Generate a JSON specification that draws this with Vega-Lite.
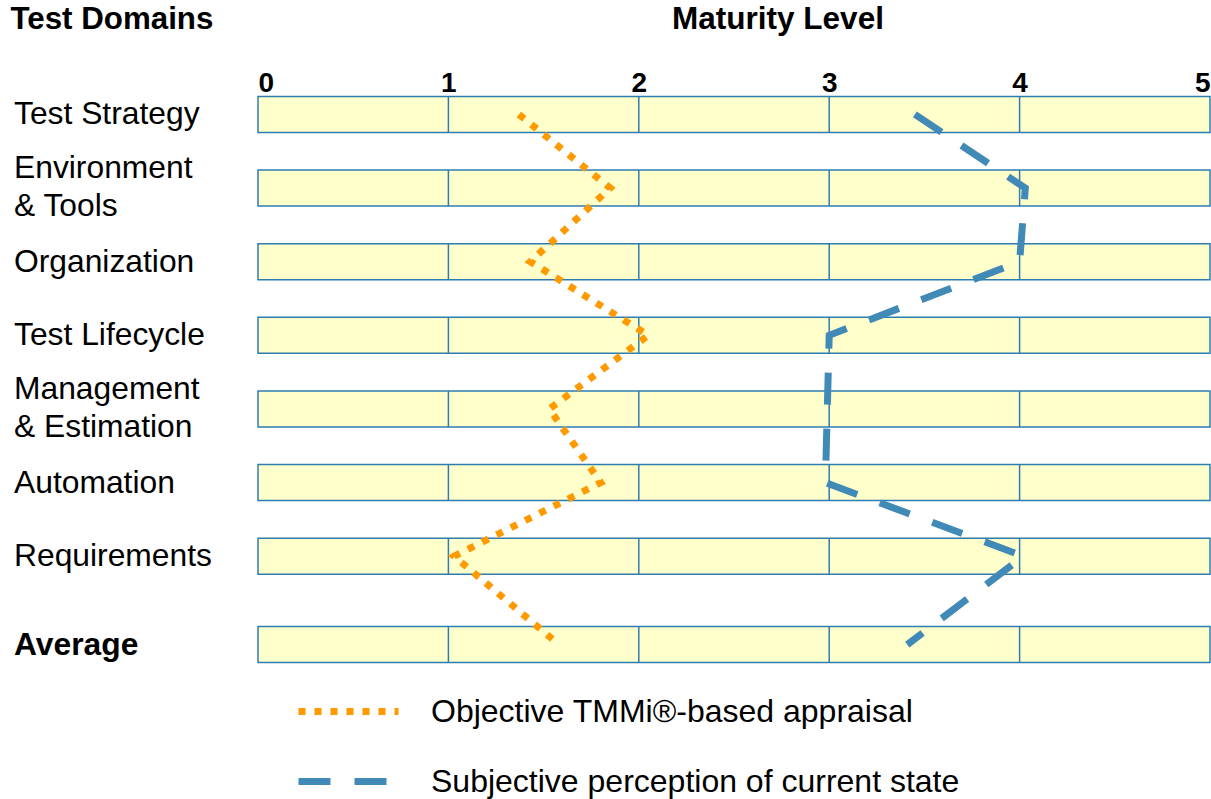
{
  "$schema": "https://vega.github.io/schema/vega-lite/v6.json",
  "width": 952,
  "height": 567,
  "autosize": {"type": "none"},
  "padding": {"left": 258, "top": 96, "right": 1, "bottom": 136},
  "background": "white",
  "config": {
    "view": {"stroke": null},
    "font": "Liberation Sans",
    "axis": {"grid": false, "ticks": false, "domain": false}
  },
  "data": {
    "values": [
      {"domain": "Test Strategy", "order": 1, "Objective TMMi®-based appraisal": 1.37, "Subjective perception of current state": 3.45},
      {"domain": "Environment\n& Tools", "order": 2, "Objective TMMi®-based appraisal": 1.85, "Subjective perception of current state": 4.03},
      {"domain": "Organization", "order": 3, "Objective TMMi®-based appraisal": 1.43, "Subjective perception of current state": 4.0},
      {"domain": "Test Lifecycle", "order": 4, "Objective TMMi®-based appraisal": 2.05, "Subjective perception of current state": 3.0},
      {"domain": "Management\n& Estimation", "order": 5, "Objective TMMi®-based appraisal": 1.53, "Subjective perception of current state": 2.99},
      {"domain": "Automation", "order": 6, "Objective TMMi®-based appraisal": 1.8, "Subjective perception of current state": 2.98},
      {"domain": "Requirements", "order": 7, "Objective TMMi®-based appraisal": 1.03, "Subjective perception of current state": 4.02},
      {"domain": "Average", "order": 8.2, "Objective TMMi®-based appraisal": 1.58, "Subjective perception of current state": 3.41}
    ]
  },
  "encoding": {
    "y": {
      "field": "order",
      "type": "quantitative",
      "scale": {"domain": [0.75, 8.45], "reverse": true, "nice": false, "zero": false, "padding": 0},
      "axis": {
        "title": "Test Domains",
        "labels": false,
        "titleAngle": 0,
        "titleAlign": "left",
        "titleBaseline": "alphabetic",
        "titleX": -248,
        "titleY": -68,
        "titleFontSize": 31.3,
        "titleFontWeight": "bold",
        "titleColor": "black"
      }
    }
  },
  "layer": [
    {
      "mark": {"type": "bar", "height": 36, "fill": "#FFFFCC", "stroke": "#2E7DB2", "strokeWidth": 1.5},
      "encoding": {
        "x": {"datum": 0, "type": "quantitative"},
        "x2": {"datum": 5}
      }
    },
    {
      "mark": {"type": "tick", "orient": "vertical", "thickness": 1.5, "color": "#2E7DB2", "opacity": 1},
      "encoding": {"x": {"datum": 1, "type": "quantitative"}, "size": {"value": 36}}
    },
    {
      "mark": {"type": "tick", "orient": "vertical", "thickness": 1.5, "color": "#2E7DB2", "opacity": 1},
      "encoding": {"x": {"datum": 2, "type": "quantitative"}, "size": {"value": 36}}
    },
    {
      "mark": {"type": "tick", "orient": "vertical", "thickness": 1.5, "color": "#2E7DB2", "opacity": 1},
      "encoding": {"x": {"datum": 3, "type": "quantitative"}, "size": {"value": 36}}
    },
    {
      "mark": {"type": "tick", "orient": "vertical", "thickness": 1.5, "color": "#2E7DB2", "opacity": 1},
      "encoding": {"x": {"datum": 4, "type": "quantitative"}, "size": {"value": 36}}
    },
    {
      "transform": [
        {"fold": ["Objective TMMi®-based appraisal", "Subjective perception of current state"], "as": ["series", "value"]}
      ],
      "mark": {"type": "line", "strokeWidth": 7, "strokeCap": "butt"},
      "encoding": {
        "x": {
          "field": "value",
          "type": "quantitative",
          "scale": {"domain": [0, 5], "nice": false, "zero": true, "padding": 0},
          "axis": {
            "orient": "top",
            "values": [0, 1, 2, 3, 4, 5],
            "format": "d",
            "labelFontSize": 28,
            "labelFontWeight": "bold",
            "labelColor": "black",
            "labelFlush": true,
            "labelOverlap": false,
            "labelPadding": 5,
            "labelBaseline": "alphabetic",
            "title": "Maturity Level",
            "titleFontSize": 31.5,
            "titleFontWeight": "bold",
            "titleColor": "black",
            "titleX": 519.5,
            "titleY": -68,
            "titleAlign": "center",
            "titleBaseline": "alphabetic"
          }
        },
        "order": {"field": "order"},
        "color": {
          "field": "series",
          "type": "nominal",
          "scale": {"domain": ["Objective TMMi®-based appraisal", "Subjective perception of current state"], "range": ["#FF9900", "#4189B7"]},
          "legend": {
            "title": null, "orient": "none", "legendX": 37, "legendY": 562, "direction": "vertical",
            "symbolType": "stroke", "symbolSize": 10000, "symbolStrokeWidth": 7,
            "labelFontSize": 32, "labelFont": "Liberation Sans", "labelColor": "black",
            "labelOffset": 29, "rowPadding": -50, "padding": 0, "labelLimit": 0
          }
        },
        "strokeDash": {
          "field": "series",
          "type": "nominal",
          "scale": {"domain": ["Objective TMMi®-based appraisal", "Subjective perception of current state"], "range": [[7, 9], [32, 24]]},
          "legend": {
            "title": null, "orient": "none", "legendX": 37, "legendY": 562, "direction": "vertical",
            "symbolType": "stroke", "symbolSize": 10000, "symbolStrokeWidth": 7,
            "labelFontSize": 32, "labelFont": "Liberation Sans", "labelColor": "black",
            "labelOffset": 29, "rowPadding": -50, "padding": 0, "labelLimit": 0
          }
        }
      }
    },
    {
      "transform": [{"filter": "datum.domain !== 'Average' && indexof(datum.domain, '\\n') < 0"}],
      "mark": {"type": "text", "align": "left", "baseline": "middle", "dx": -244, "fontSize": 31.8, "color": "black"},
      "encoding": {"x": {"datum": 0, "type": "quantitative"}, "text": {"field": "domain"}}
    },
    {
      "transform": [{"filter": "indexof(datum.domain, '\\n') >= 0"}],
      "mark": {"type": "text", "align": "left", "baseline": "middle", "dx": -244, "dy": -20, "fontSize": 31.8, "lineBreak": "\n", "lineHeight": 38, "color": "black"},
      "encoding": {"x": {"datum": 0, "type": "quantitative"}, "text": {"field": "domain"}}
    },
    {
      "transform": [{"filter": "datum.domain === 'Average'"}],
      "mark": {"type": "text", "align": "left", "baseline": "middle", "dx": -244, "fontSize": 31.8, "fontWeight": "bold", "color": "black"},
      "encoding": {"x": {"datum": 0, "type": "quantitative"}, "text": {"field": "domain"}}
    }
  ]
}
